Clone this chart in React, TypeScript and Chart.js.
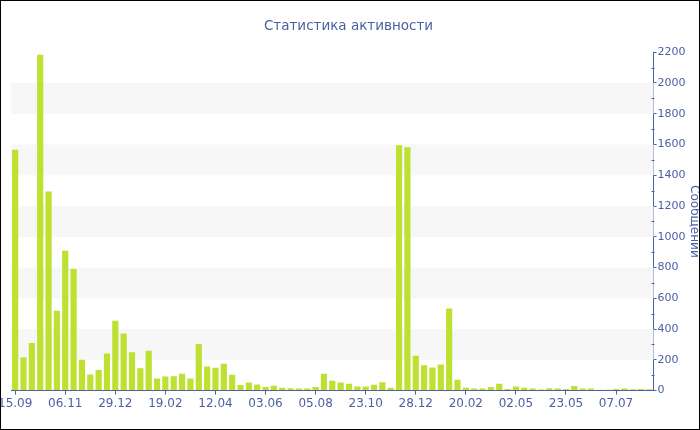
import React, { useEffect, useRef } from "react";
import { Chart, registerables } from "chart.js";

Chart.register(...registerables);

const tickLabels = ["15.09", "06.11", "29.12", "19.02", "12.04", "03.06", "05.08", "23.10", "28.12", "20.02", "02.05", "23.05", "07.07"];
const tickEvery = 6;

const messages = [
  1565, 216, 309, 2183, 1295, 519, 910, 790, 201, 104,
  134, 242, 454, 372, 249, 145, 259, 78, 91, 93,
  110, 78, 303, 156, 149, 175, 103, 37, 53, 39,
  24, 32, 18, 15, 13, 13, 24, 109, 64, 52,
  45, 26, 26, 38, 54, 19, 1595, 1582, 226, 165,
  150, 169, 534, 71, 19, 13, 13, 24, 45, 11,
  27, 18, 13, 7, 15, 13, 11, 30, 13, 13,
  6, 6, 11, 13, 9, 11, 9,
];

const categories = messages.map((_, i) => (i % tickEvery === 0 ? tickLabels[i / tickEvery] ?? "" : ""));

const bandStarts = [200, 600, 1000, 1400, 1800];
const bandHeight = 200;

const AXIS = "#4b62a8";
const TEXT = "#4b5fa3";
const FONT = "'DejaVu Sans', Tahoma, sans-serif";
const SHIFT = 5;

const bandsPlugin = {
  id: "bands",
  beforeDatasetsDraw(chart: any) {
    const { ctx, chartArea, scales } = chart;
    const y = scales.y;
    ctx.save();
    ctx.fillStyle = "#f7f7f7";
    for (const s of bandStarts) {
      const top = y.getPixelForValue(s + bandHeight);
      const bot = y.getPixelForValue(s);
      ctx.fillRect(chartArea.left, top, chartArea.right - chartArea.left, bot - top);
    }
    ctx.restore();
  },
  afterDraw(chart: any) {
    const { ctx, scales } = chart;
    const y = scales.y;
    ctx.save();
    ctx.strokeStyle = AXIS;
    ctx.lineWidth = 1;
    const x0 = Math.round(y.left) + 0.5;
    for (let v = 100; v < 2200; v += 200) {
      const py = Math.round(y.getPixelForValue(v)) + 0.5;
      ctx.beginPath();
      ctx.moveTo(x0 - 3, py);
      ctx.lineTo(x0, py);
      ctx.stroke();
    }
    ctx.restore();
  },
};

export default function App() {
  const ref = useRef<HTMLCanvasElement | null>(null);

  useEffect(() => {
    if (!ref.current) return;
    const chart = new Chart(ref.current, {
      type: "bar",
      data: {
        labels: categories,
        datasets: [
          {
            label: "Сообщений",
            data: messages,
            backgroundColor: "#bde031",
            borderWidth: 0,
            categoryPercentage: 1,
            barPercentage: 0.74,
          },
        ],
      },
      options: {
        animation: false,
        responsive: false,
        maintainAspectRatio: false,
        layout: { padding: { top: 0, left: 0, right: -2, bottom: 16 } },
        plugins: {
          legend: { display: false },
          tooltip: { enabled: false },
          title: {
            display: true,
            text: "Статистика активности",
            color: TEXT,
            font: { family: FONT, size: 13.5, weight: "normal" },
            padding: { top: 17, bottom: 18 },
          },
        },
        scales: {
          x: {
            offset: true,
            afterBuildTicks: (scale: any) => {
              scale.ticks = scale.ticks.filter((t: any) => t.value % tickEvery === 0);
            },
            grid: { display: true, drawOnChartArea: false, offset: false, color: AXIS, tickLength: 4 },
            border: { display: true, color: AXIS },
            ticks: {
              autoSkip: false,
              maxRotation: 0,
              color: TEXT,
              padding: 2,
              font: { family: FONT, size: 12 },
              callback: (v: any) => categories[v as number],
            },
          },
          y: {
            position: "right",
            min: 0,
            max: 2200,
            ticks: {
              stepSize: 200,
              color: TEXT,
              padding: 1,
              font: { family: FONT, size: 11 },
              callback: (v: any) => String(v),
            },
            grid: { drawOnChartArea: false, color: AXIS, tickLength: 3 },
            border: { display: true, color: AXIS },
            title: {
              display: true,
              text: "Сообщений",
              color: TEXT,
              font: { family: FONT, size: 12 },
              padding: { top: 0, bottom: 0 },
            },
          },
        },
      },
      plugins: [bandsPlugin],
    });
    return () => chart.destroy();
  }, []);

  return (
    <div
      style={{
        position: "fixed",
        left: 0,
        top: 0,
        width: 700,
        height: 430,
        boxSizing: "border-box",
        border: "1px solid #000",
        background: "#fff",
        overflow: "hidden",
      }}
    >
      <canvas
        ref={ref}
        width={698 + SHIFT}
        height={428}
        style={{ display: "block", marginLeft: -SHIFT }}
      />
    </div>
  );
}
